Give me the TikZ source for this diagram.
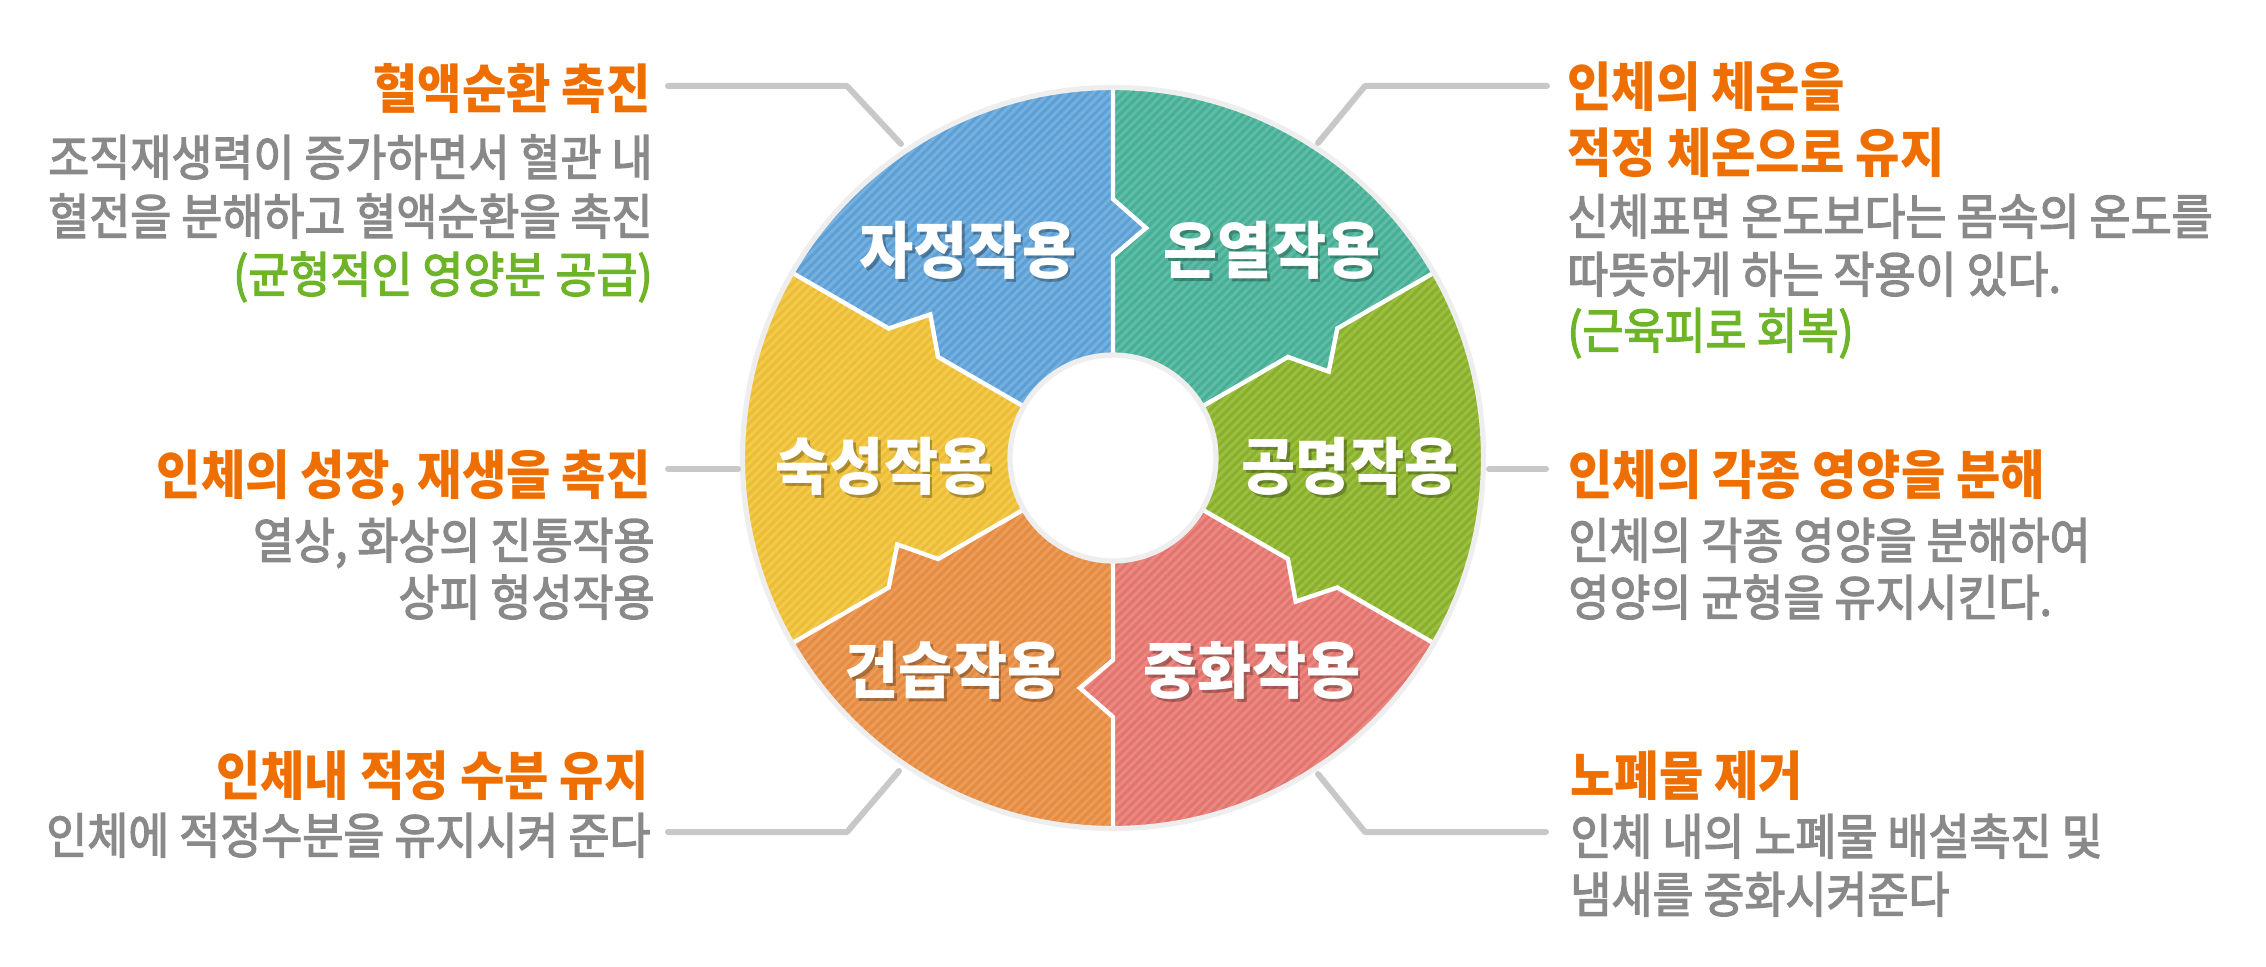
\documentclass[tikz,border=0pt]{standalone}
\usepackage{fontspec}
\usetikzlibrary{patterns.meta}
\newfontfamily\krm{Noto Sans CJK KR}[FakeStretch=0.91, FakeBold=2.5]
\newfontfamily\krb{Noto Sans CJK KR}[FakeStretch=0.91]
\newfontfamily\krs{Noto Sans CJK KR}[FakeStretch=0.95]
\definecolor{tOrange}{RGB}{238,110,0}
\definecolor{tGray}{RGB}{137,137,137}
\definecolor{tGreen}{RGB}{110,180,40}
\definecolor{connGray}{RGB}{200,200,200}
\definecolor{ringGray}{RGB}{238,238,238}
\definecolor{cBlue}{RGB}{95,160,212}\definecolor{sBlue}{RGB}{116,177,225}
\definecolor{cTeal}{RGB}{72,175,150}\definecolor{sTeal}{RGB}{94,189,165}
\definecolor{cGrn}{RGB}{137,176,45}\definecolor{sGrn}{RGB}{156,191,66}
\definecolor{cPink}{RGB}{227,117,111}\definecolor{sPink}{RGB}{236,136,130}
\definecolor{cOra}{RGB}{228,139,68}\definecolor{sOra}{RGB}{237,156,88}
\definecolor{cYel}{RGB}{236,189,55}\definecolor{sYel}{RGB}{243,202,76}
\newcommand\segpath[1]{(#1:103) -- (#1:202) -- ({#1-8.17}:232.4) -- (#1:259) -- (#1:371)
  arc[start angle=#1, delta angle=60, radius=371] -- ({#1+60}:259) -- ({#1+51.83}:232.4)
  -- ({#1+60}:202) -- ({#1+60}:103) arc[start angle={#1+60}, delta angle=-60, radius=103] -- cycle}
\tikzset{
  conn/.style={draw=connGray, line width=3pt, line cap=round, line join=round},
  ttl/.style={font=\krb\bfseries\fontsize{26.5pt}{26.5pt}\selectfont, text=tOrange, inner sep=0pt,
    text height=21.7pt, text depth=1.6pt},
  body/.style={font=\krm\fontsize{24.5pt}{24.5pt}\selectfont, text=tGray, inner sep=0pt,
    text height=20.1pt, text depth=1.5pt},
  note/.style={body, text=tGreen},
  seglbl/.style={font=\krs\bfseries\fontsize{31pt}{31pt}\selectfont, text=white, inner sep=0pt,
    text height=25.4pt, text depth=1.9pt},
  segshadow/.style={seglbl, text=black, text opacity=0.28},
}
\begin{document}
\begin{tikzpicture}[x=0.5pt,y=-0.5pt]
\useasboundingbox (0,0) rectangle (2266,967);
% ring
\begin{scope}[shift={(1113,458)}, y=0.5pt]
  \foreach \a/\c/\s in {30/cTeal/sTeal, 90/cBlue/sBlue, 150/cYel/sYel, 210/cOra/sOra, 270/cPink/sPink, 330/cGrn/sGrn}{
    \path[fill=\c, postaction={pattern={Lines[angle=45,distance=3.1pt,line width=1.45pt]}, pattern color=\s}] \segpath{\a};
  }
  \foreach \a in {30,90,150,210,270,330}{
    \draw[white, line width=2.2pt, line join=miter] (\a:103) -- (\a:202) -- ({\a-8.17}:232.4) -- (\a:259) -- (\a:372);
  }
  \draw[ringGray, line width=2.6pt] (0,0) circle[radius=370.5];
  \fill[white] (0,0) circle[radius=103];
  \draw[ringGray, line width=2.6pt] (0,0) circle[radius=103];
\end{scope}
% segment labels
\foreach \n/\x/\y/\t in {zj/968/250/자정작용, oy/1272/250/온열작용, ss/884/466/숙성작용, gm/1350/466/공명작용, gs/953/670/건습작용, jh/1252/670/중화작용}{
  \node[segshadow] (\n-s) at (\x+2.5,\y+3) {\t};
  \node[seglbl] (\n) at (\x,\y) {\t};
}
% left column
\node[ttl, anchor=east] (t1) at (651,88) {혈액순환 촉진};
\node[body, anchor=east] (g1a) at (653,157) {조직재생력이 증가하면서 혈관 내};
\node[body, anchor=east] (g1b) at (653,216) {혈전을 분해하고 혈액순환을 촉진};
\node[note, anchor=east] (g1c) at (653,274) {(균형적인 영양분 공급)};
\node[ttl, anchor=east] (t2) at (651,474) {인체의 성장, 재생을 촉진};
\node[body, anchor=east] (g2a) at (655,540) {열상, 화상의 진통작용};
\node[body, anchor=east] (g2b) at (655,597) {상피 형성작용};
\node[ttl, anchor=east] (t3) at (649,775) {인체내 적정 수분 유지};
\node[body, anchor=east] (g3a) at (651,835) {인체에 적정수분을 유지시켜 준다};
% right column
\node[ttl, anchor=west] (t4) at (1567,86) {인체의 체온을};
\node[ttl, anchor=west] (t4b) at (1567,152) {적정 체온으로 유지};
\node[body, anchor=west] (g4a) at (1567,216) {신체표면 온도보다는 몸속의 온도를};
\node[body, anchor=west] (g4b) at (1567,274) {따뜻하게 하는 작용이 있다.};
\node[note, anchor=west] (g4c) at (1567,330) {(근육피로 회복)};
\node[ttl, anchor=west] (t5) at (1568,474) {인체의 각종 영양을 분해};
\node[body, anchor=west] (g5a) at (1568,540) {인체의 각종 영양을 분해하여};
\node[body, anchor=west] (g5b) at (1568,597) {영양의 균형을 유지시킨다.};
\node[ttl, anchor=west] (t6) at (1570,775) {노폐물 제거};
\node[body, anchor=west] (g6a) at (1570,836) {인체 내의 노폐물 배설촉진 및};
\node[body, anchor=west] (g6b) at (1570,894) {냄새를 중화시켜준다};
% connector coordinates
\coordinate (c1a) at (668,86);  \coordinate (c1b) at (847,86);  \coordinate (c1c) at (901,144);
\coordinate (c2a) at (668,469); \coordinate (c2b) at (738,469);
\coordinate (c3a) at (668,832); \coordinate (c3b) at (847,832); \coordinate (c3c) at (899,771);
\coordinate (c4a) at (1547,86); \coordinate (c4b) at (1365,86); \coordinate (c4c) at (1318,143);
\coordinate (c5a) at (1489,469);\coordinate (c5b) at (1546,469);
\coordinate (c6a) at (1546,832);\coordinate (c6b) at (1365,832);\coordinate (c6c) at (1318,774);
\draw[conn] (c1a) -- (c1b) -- (c1c);
\draw[conn] (c2a) -- (c2b);
\draw[conn] (c3a) -- (c3b) -- (c3c);
\draw[conn] (c4a) -- (c4b) -- (c4c);
\draw[conn] (c5a) -- (c5b);
\draw[conn] (c6a) -- (c6b) -- (c6c);
\end{tikzpicture}
\end{document}
